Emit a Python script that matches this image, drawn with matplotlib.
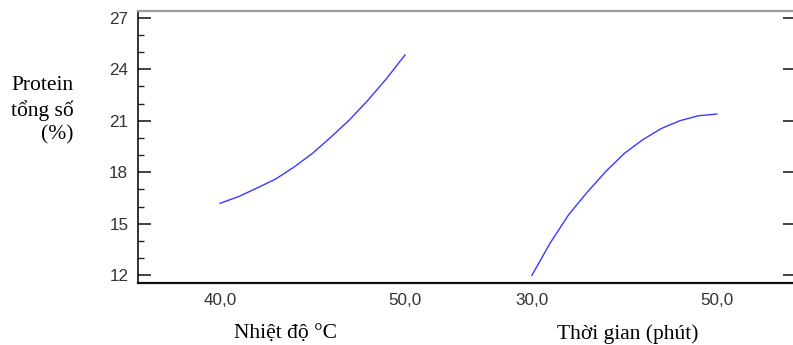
import matplotlib
matplotlib.use("Agg")
import matplotlib.pyplot as plt
from matplotlib.ticker import MultipleLocator
import numpy as np

# Data
temp_c = [40, 41, 42, 43, 44, 45, 46, 47, 48, 49, 50]
protein_temp = [16.19, 16.58, 17.08, 17.60, 18.30, 19.10, 20.05, 21.05, 22.20, 23.45, 24.83]
time_min = [30, 32, 34, 36, 38, 40, 42, 44, 46, 48, 50]
protein_time = [12.0, 13.9, 15.55, 16.85, 18.05, 19.10, 19.90, 20.55, 21.0, 21.29, 21.39]

temp_ticks = [40.0, 50.0]
time_ticks = [30.0, 50.0]
y_ticks = [12, 15, 18, 21, 24, 27]

ylabel = "Protein\ntổng số\n(%)"
xlabel_temp = "Nhiệt độ °C"
xlabel_time = "Thời gian (phút)"

def fmt(v):
    return f"{v:.1f}".replace(".", ",")

# panel layout on a shared axis
seg2_offset = 1.686
def pos_temp(v):
    return (np.asarray(v, dtype=float) - temp_ticks[0]) / (temp_ticks[1] - temp_ticks[0])
def pos_time(v):
    return seg2_offset + (np.asarray(v, dtype=float) - time_ticks[0]) / (time_ticks[1] - time_ticks[0])

fig = plt.figure(figsize=(7.93, 3.45), dpi=100)
ax = fig.add_axes([138/793, 1 - 283/345, (796 - 138)/793, (283 - 11)/345])

ax.plot(pos_temp(temp_c), protein_temp, color="#3a3aff", lw=1.0)
ax.plot(pos_time(time_min), protein_time, color="#3a3aff", lw=1.0)

ax.set_xlim((138 - 220)/185, (796 - 220)/185)
ax.set_ylim(11.55, 27.39)

xt = list(pos_temp(temp_ticks)) + list(pos_time(time_ticks))
xl = [fmt(v) for v in temp_ticks] + [fmt(v) for v in time_ticks]
ax.set_xticks(xt)
ax.set_xticklabels(xl, fontsize=12.3, color="#333333", family="Liberation Sans")
ax.tick_params(axis="x", length=0, pad=7)

ax.set_yticks(y_ticks)
ax.set_yticklabels([str(v) for v in y_ticks], fontsize=12.3, color="#333333",
                   family="Liberation Sans")
ax.yaxis.set_minor_locator(MultipleLocator(1))
ax.tick_params(axis="y", which="major", direction="in", length=9.4, width=1.2,
               pad=7, right=True, color="#222222")
ax.tick_params(axis="y", which="minor", direction="in", length=4.3, width=1.0,
               right=False, color="#222222")

ax.spines["top"].set_color("#9a9a9a")
ax.spines["top"].set_linewidth(1.6)
ax.spines["left"].set_color("#111111")
ax.spines["left"].set_linewidth(1.2)
ax.spines["bottom"].set_color("#111111")
ax.spines["bottom"].set_linewidth(1.6)
ax.spines["right"].set_visible(False)

fig.text(74/793, 1 - 110/345, ylabel, ha="right", va="center",
         fontsize=15.5, family="Liberation Serif", linespacing=1.3)
fig.text(285/793, 1 - 334/345, xlabel_temp, ha="center", va="center",
         fontsize=15.5, family="Liberation Serif")
fig.text(628/793, 1 - 334/345, xlabel_time, ha="center", va="center",
         fontsize=15.5, family="Liberation Serif")

fig.savefig("out.png", dpi=100)
